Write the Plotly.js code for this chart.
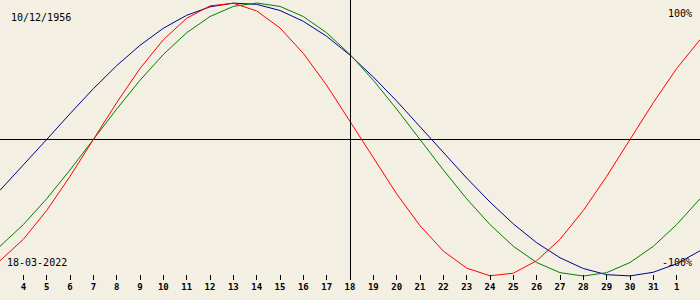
<!DOCTYPE html>
<html>
<head>
<meta charset="utf-8">
<script src="https://cdn.plot.ly/plotly-3.0.1.min.js"></script>
<style>html,body{margin:0;padding:0;background:#f3efe3;}#chart{width:700px;height:300px;}
.shapelayer path,.zl,.xtick,.ytick{shape-rendering:crispEdges;}</style>
</head>
<body>
<div id="chart"></div>
<script>
// Days of the window (March 2022; 32 = 1 April, 33 = 2 April)
const days = [3,4,5,6,7,8,9,10,11,12,13,14,15,16,17,18,19,20,21,22,23,24,25,26,27,28,29,30,31,32,33];
// Physical (red)
const physical = [-0.888,-0.731,-0.520,-0.270,0,0.270,0.520,0.731,0.888,0.979,0.998,0.942,0.817,0.631,0.398,0.136,-0.136,-0.398,-0.631,-0.817,-0.942,-0.998,-0.979,-0.888,-0.731,-0.520,-0.270,0,0.270,0.520,0.731];
// Emotional (green)
const emotional = [-0.782,-0.623,-0.434,-0.223,0,0.223,0.434,0.623,0.782,0.901,0.975,1.0,0.975,0.901,0.782,0.623,0.434,0.223,0,-0.223,-0.434,-0.623,-0.782,-0.901,-0.975,-1.0,-0.975,-0.901,-0.782,-0.623,-0.434];
// Intellectual (blue)
const intellectual = [-0.372,-0.189,0,0.189,0.372,0.541,0.690,0.815,0.910,0.972,0.999,0.990,0.945,0.866,0.756,0.618,0.458,0.282,0.095,-0.095,-0.282,-0.458,-0.618,-0.756,-0.866,-0.945,-0.990,-0.999,-0.972,-0.910,-0.815];
// Tick labels
const tickDays = [4,5,6,7,8,9,10,11,12,13,14,15,16,17,18,19,20,21,22,23,24,25,26,27,28,29,30,31,32];
const tickLabels = ["4","5","6","7","8","9","10","11","12","13","14","15","16","17","18","19","20","21","22","23","24","25","26","27","28","29","30","31","1"];
const birthDate = "10/12/1956";
const currentDate = "18-03-2022";
const currentDay = 18;

const mono = "DejaVu Sans Mono, monospace";
const traces = [
  {x: days, y: intellectual, mode: "lines", line: {color: "#000090", width: 1}, hoverinfo: "skip"},
  {x: days, y: emotional, mode: "lines", line: {color: "#008000", width: 1}, hoverinfo: "skip"},
  {x: days, y: physical, mode: "lines", line: {color: "#ff0000", width: 1}, hoverinfo: "skip"}
];
const H = 280;
const layout = {
  width: 700, height: 300,
  margin: {l: 0, r: 0, t: 0, b: 20, pad: 0},
  paper_bgcolor: "#f3efe3", plot_bgcolor: "#f3efe3",
  showlegend: false,
  xaxis: {
    range: [3, 33], showgrid: false, zeroline: false, showline: false,
    tickmode: "array", tickvals: tickDays, ticktext: tickLabels,
    ticks: "inside", ticklen: 5, tickwidth: 1, tickcolor: "#000",
    tickfont: {family: mono, size: 9, color: "#000", weight: "bold"}
  },
  yaxis: {
    range: [-1.029, 1.022], showgrid: false, showticklabels: false, ticks: "",
    zeroline: true, zerolinecolor: "#000", zerolinewidth: 1, showline: false
  },
  shapes: [
    {type: "line", xref: "x", yref: "paper", x0: currentDay, x1: currentDay, y0: 0, y1: 1, line: {color: "#000", width: 1}}
  ],
  annotations: [
    {text: birthDate, xref: "paper", yref: "paper", x: 9/700, y: 1 - 17/H, xanchor: "left", yanchor: "middle", showarrow: false, font: {family: mono, size: 10, color: "#000"}},
    {text: "100%", xref: "paper", yref: "paper", x: 694/700, y: 1 - 13/H, xanchor: "right", yanchor: "middle", showarrow: false, font: {family: mono, size: 10, color: "#000"}},
    {text: currentDate, xref: "paper", yref: "paper", x: 5/700, y: 1 - 262/H, xanchor: "left", yanchor: "middle", showarrow: false, font: {family: mono, size: 10, color: "#000"}},
    {text: "-100%", xref: "paper", yref: "paper", x: 694/700, y: 1 - 262/H, xanchor: "right", yanchor: "middle", showarrow: false, font: {family: mono, size: 10, color: "#000"}}
  ]
};
Plotly.newPlot("chart", traces, layout, {staticPlot: true, displayModeBar: false});
</script>
</body>
</html>
